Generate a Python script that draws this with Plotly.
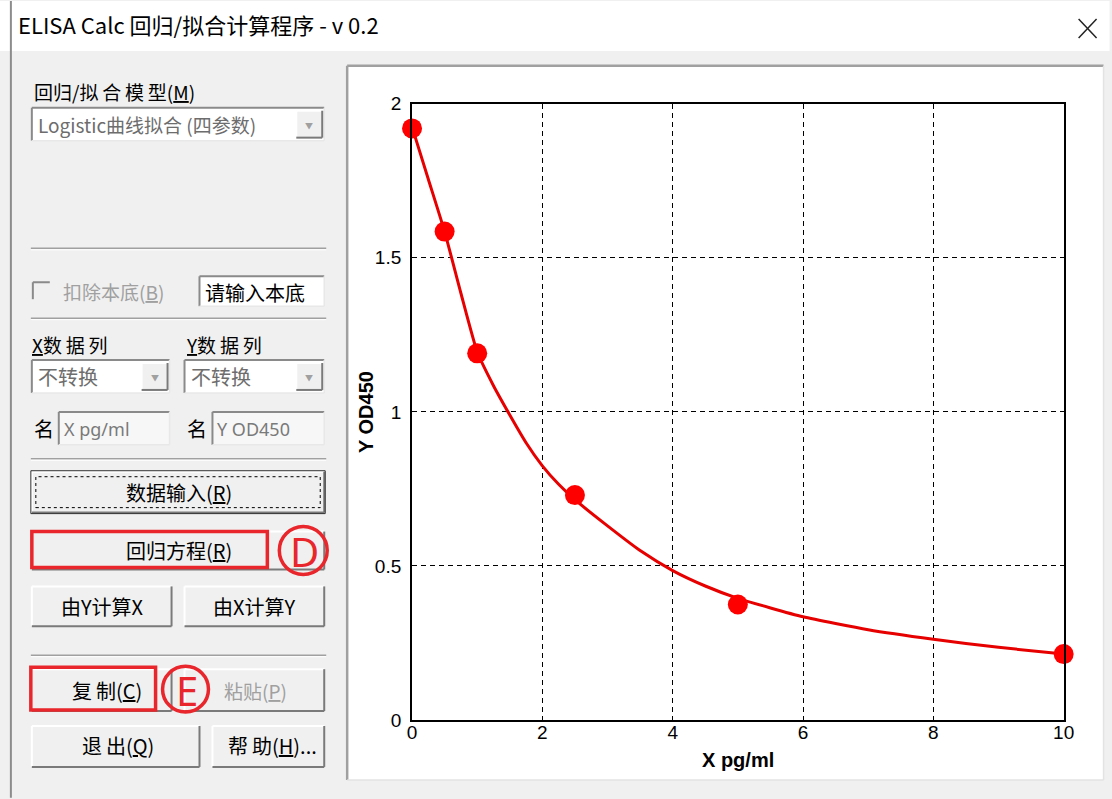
import plotly.graph_objects as go

# ---------------- data ----------------
std_x = [0, 0.5, 1, 2.5, 5, 10]
std_y = [1.92, 1.585, 1.19, 0.73, 0.375, 0.214]

curve_x = [0, 0.25, 0.5, 0.75, 1, 1.25, 1.5, 1.75, 2, 2.25, 2.5, 3, 3.5, 4, 4.5, 5, 6, 7, 8, 9, 10]
curve_y = [1.925, 1.755, 1.585, 1.385, 1.195, 1.085, 0.99, 0.9, 0.825, 0.765, 0.715, 0.63, 0.55,
           0.485, 0.435, 0.395, 0.335, 0.293, 0.262, 0.236, 0.214]

x_ticks = [0, 2, 4, 6, 8, 10]
y_ticks = [0, 0.5, 1, 1.5, 2]
y_tick_text = ["0", "0.5", "1", "1.5", "2"]

W, H = 1112, 799
# photo framing compensation (measured from test renders)
AX, SX = 5.1, 0.9877
AY, SY = 9.0, 0.9764


def PX(px):
    return ((px - AX) / SX) / W


def PY(py):
    return 1 - ((py - AY) / SY) / H


shapes = []
annotations = []

CJK = "Noto Sans CJK SC, Noto Sans, sans-serif"
ARIAL = "Liberation Sans, Arial, sans-serif"
TS = "\u2009"


def rect(x0, y0, x1, y1, fill=None, line=None, width=1, layer="below", dash=None):
    d = dict(type="rect", xref="paper", yref="paper",
             x0=PX(x0), x1=PX(x1), y0=PY(y1), y1=PY(y0), layer=layer,
             line=dict(width=width if line else 0, color=line or "rgba(0,0,0,0)"))
    if dash:
        d["line"]["dash"] = dash
    if fill:
        d["fillcolor"] = fill
    shapes.append(d)


def seg(x0, y0, x1, y1, color, width=1, layer="below"):
    shapes.append(dict(type="line", xref="paper", yref="paper",
                       x0=PX(x0), x1=PX(x1), y0=PY(y0), y1=PY(y1),
                       line=dict(color=color, width=width), layer=layer))


def circ(cx, cy, r, color, width=3):
    shapes.append(dict(type="circle", xref="paper", yref="paper",
                       x0=PX(cx - r), x1=PX(cx + r), y0=PY(cy + r), y1=PY(cy - r),
                       line=dict(color=color, width=width), layer="above"))


def text(x, y, s, size=20, color="#000000", anchor="left", family=CJK, angle=0):
    annotations.append(dict(xref="paper", yref="paper", x=PX(x), y=PY(y), text=s,
                            showarrow=False, xanchor=anchor, yanchor="middle",
                            textangle=angle,
                            font=dict(size=size, color=color, family=family)))


def button(x0, y0, x1, y1):
    rect(x0, y0, x1, y1, fill="#f0f0f0")
    seg(x0, y0, x1, y0, "#ffffff", 2)
    seg(x0, y0, x0, y1, "#ffffff", 2)
    seg(x0, y1, x1, y1, "#7a7a7a", 2)
    seg(x1, y0, x1, y1, "#7a7a7a", 2)


def field(x0, y0, x1, y1, fill="#ffffff"):
    rect(x0, y0, x1, y1, fill=fill)
    seg(x0, y0, x1, y0, "#8a8a8a", 2)
    seg(x0, y0, x0, y1, "#8a8a8a", 2)
    seg(x0, y1, x1, y1, "#e8e8e8", 1.5)
    seg(x1, y0, x1, y1, "#e8e8e8", 1.5)


def combo(x0, y0, x1, y1, label, size=20):
    field(x0, y0, x1, y1)
    button(x1 - 28, y0 + 3, x1 - 2, y1 - 3)
    text(x1 - 15, (y0 + y1) / 2 + 1, "▼", size=8, color="#a0a0a0", anchor="center")
    text(x0 + 4, (y0 + y1) / 2, label, size=size, color="#6d6d6d")


# ---------------- window chrome ----------------
rect(0, 0, W, 50, fill="#ffffff")
seg(11, 0, 11, H, "#8c8c8c", 2)
seg(1081, 18, 1099, 37, "#222222", 1.5)
seg(1081, 37, 1099, 18, "#222222", 1.5)
text(16, 23, "ELISA Calc 回归/拟合计算程序 - v 0.2", size=22, color="#000000")

# chart panel
rect(348, 65, 1106, 781, fill="#ffffff")
seg(348, 65, 1106, 65, "#a0a0a0", 2.5)
seg(348, 65, 348, 781, "#a0a0a0", 2.5)
seg(348, 781, 1106, 781, "#e3e3e3", 1.5)
seg(1106, 65, 1106, 781, "#e3e3e3", 1.5)

# ---------------- left control panel ----------------
text(32, 91, "回归/拟" + TS + "合" + TS + "模" + TS + "型(<u>M</u>)", size=19)
combo(32, 107, 325, 140, "Logistic曲线拟合 (四参数)", size=19)

seg(31, 248, 327, 248, "#a0a0a0", 1.5)
seg(31, 249.5, 327, 249.5, "#ffffff", 1)

# checkbox
rect(33, 282, 50, 299, fill="#f0f0f0")
seg(33, 282, 50, 282, "#8a8a8a", 2)
seg(33, 282, 33, 299, "#8a8a8a", 2)
text(61, 291, "扣除本底(<u>B</u>)", size=19, color="#a0a0a0")
field(200, 276, 325, 306)
text(204, 292, "请输入本底", size=20)

seg(31, 318, 327, 318, "#a0a0a0", 1.5)
seg(31, 319.5, 327, 319.5, "#ffffff", 1)

text(30, 344, "<u>X</u>数" + TS + "据" + TS + "列", size=19)
text(184, 344, "<u>Y</u>数" + TS + "据" + TS + "列", size=19)
combo(32, 360, 170, 393, "不转换", size=20)
combo(185, 360, 325, 393, "不转换", size=20)

text(32, 429, "名", size=20)
field(59, 412, 170, 445, fill="#f7f7f7")
text(62, 429, "X pg/ml", size=18, color="#7a7a7a", family="Noto Sans, sans-serif")
text(185, 429, "名", size=20)
field(213, 412, 325, 445, fill="#f7f7f7")
text(216, 429, "Y OD450", size=18, color="#7a7a7a", family="Noto Sans, sans-serif")

seg(31, 459, 327, 459, "#a0a0a0", 1.5)
seg(31, 460.5, 327, 460.5, "#ffffff", 1)

# buttons
button(32, 472, 325, 513)
rect(31, 471, 326, 514, line="#303030", width=1)
rect(36, 477, 321, 508, line="#000000", width=1, dash="dot")
text(179, 493, "数据输入(<u>R</u>)", size=20, anchor="center")

button(32, 532, 325, 570)
text(179, 551, "回归方程(<u>R</u>)", size=20, anchor="center")

button(32, 587, 172, 627)
text(103, 607, "由Y计算X", size=20, anchor="center")
button(185, 587, 325, 627)
text(255, 607, "由X计算Y", size=20, anchor="center")

seg(31, 656, 327, 656, "#a0a0a0", 1.5)
seg(31, 657.5, 327, 657.5, "#ffffff", 1)

button(32, 670, 172, 712)
text(107, 691, "复" + TS + "制(<u>C</u>)", size=20, anchor="center")
button(185, 670, 325, 712)
text(256, 691, "粘贴(<u>P</u>)", size=19, color="#a0a0a0", anchor="center")

button(32, 727, 200, 768)
text(118, 747, "退" + TS + "出(<u>Q</u>)", size=20, anchor="center")
button(213, 727, 325, 768)
text(273, 747, "帮" + TS + "助(<u>H</u>)...", size=20, anchor="center")

# red highlight marks
rect(32, 532, 268, 568, line="#e8262b", width=3.5, layer="above")
circ(304, 551, 24, "#e8262b", 3.5)
text(305, 552, "D", size=40, color="#e8262b", anchor="center", family="Noto Sans, sans-serif")
rect(31, 668, 156, 711, line="#e8262b", width=3.5, layer="above")
circ(186, 690, 23, "#e8262b", 3.5)
text(187, 691, "E", size=40, color="#e8262b", anchor="center", family="Noto Sans, sans-serif")

# axis titles
text(367, 412, "<b>Y OD450</b>", size=20, anchor="center", family=ARIAL, angle=-90)
text(740, 761, "<b>X pg/ml</b>", size=20, anchor="center", family=ARIAL)

# ---------------- chart ----------------
fig = go.Figure()
fig.add_trace(go.Scatter(x=curve_x, y=curve_y, mode="lines",
                         line=dict(color="#e60000", width=3, shape="spline", smoothing=0.5),
                         hoverinfo="skip", showlegend=False))
fig.add_trace(go.Scatter(x=std_x, y=std_y, mode="markers",
                         marker=dict(color="#ff0000", size=20, symbol="circle",
                                     line=dict(width=0)),
                         showlegend=False, cliponaxis=False))

axis_common = dict(showline=True, mirror=True, linecolor="#000000", linewidth=2,
                   showgrid=True, gridcolor="#000000", gridwidth=1.2, griddash="5px,4px",
                   zeroline=False, ticks="",
                   tickfont=dict(family=ARIAL, size=19, color="#000000"))

fig.update_layout(
    width=W, height=H,
    margin=dict(l=0, r=0, t=0, b=0),
    paper_bgcolor="#f0f0f0",
    plot_bgcolor="#ffffff",
    xaxis=dict(domain=[PX(413), PX(1066)], range=[0, 10], tickvals=x_ticks,
               ticklabelstandoff=-6, **axis_common),
    yaxis=dict(domain=[PY(721), PY(103)], range=[0, 2], tickvals=y_ticks,
               ticktext=y_tick_text, ticklabelstandoff=5, **axis_common),
    shapes=shapes,
    annotations=annotations,
    showlegend=False,
)

fig.write_html(
    "out.html",
    config={"displayModeBar": False},
    post_script=(
        "document.documentElement.style.margin='0';"
        "document.documentElement.style.overflow='hidden';"
        "document.body.style.margin='0';document.body.style.padding='0';"
        "document.body.style.overflow='hidden';"
        "var g=document.getElementById('{plot_id}');"
        "g.style.position='fixed';g.style.left='0px';g.style.top='0px';"
    ),
)
